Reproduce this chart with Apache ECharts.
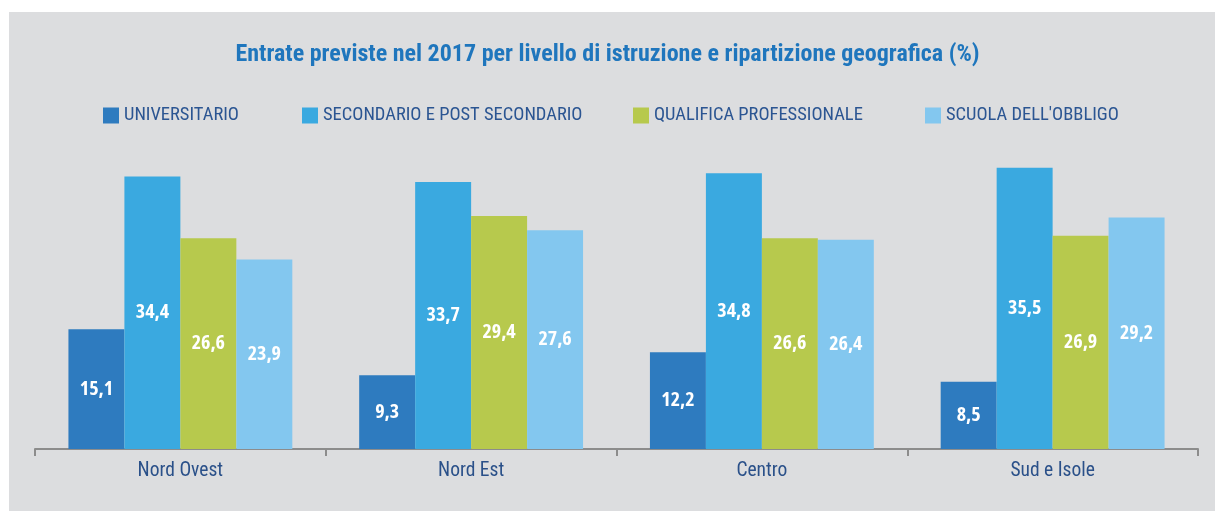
<!DOCTYPE html>
<html>
<head>
<meta charset="utf-8">
<script src="https://cdn.jsdelivr.net/npm/echarts@6/dist/echarts.min.js"></script>
<style>
  html, body { margin: 0; padding: 0; background: #fff; }
  #chart { width: 1215px; height: 511px; }
</style>
</head>
<body>
<div id="chart"></div>
<script>
// categorie e valori (%)
var regioni = ['Nord Ovest', 'Nord Est', 'Centro', 'Sud e Isole'];
var universitario = [15.1, 9.3, 12.2, 8.5];
var secondario = [34.4, 33.7, 34.8, 35.5];
var qualifica = [26.6, 29.4, 26.6, 26.9];
var scuolaObbligo = [23.9, 27.6, 26.4, 29.2];

var nomi = ['UNIVERSITARIO', 'SECONDARIO E POST SECONDARIO', 'QUALIFICA PROFESSIONALE', "SCUOLA DELL'OBBLIGO"];
var colori = ['#2e7bbf', '#3aa9e0', '#b7c94d', '#83c7ef'];

var myChart = echarts.init(document.getElementById('chart'));

function serie(nome, valori, colore) {
    return {
        name: nome,
        type: 'bar',
        data: valori,
        barGap: 0,
        barCategoryGap: '23%',
        itemStyle: { color: colore },
        label: {
            show: true,
            position: 'inside',
            color: '#fff',
            fontFamily: 'Open Sans',
            fontStyle: 'condensed',
            fontWeight: 'bold',
            fontSize: 20,
            formatter: function (p) { return p.value.toFixed(1).replace('.', ','); }
        }
    };
}

// una legenda per ciascuna voce, per posizionarle come nell'originale
var legendLeft = [103, 302, 633, 925];
var legende = nomi.map(function (n, i) {
    return {
        data: [n],
        left: legendLeft[i],
        top: 106,
        padding: 0,
        icon: 'rect',
        itemWidth: 16,
        itemHeight: 16,
        textStyle: { color: '#2b5592', fontFamily: 'Roboto', fontStyle: 'condensed', fontSize: 18.5 }
    };
});

var option = {
    backgroundColor: '#fff',
    animation: false,
    graphic: [{
        type: 'rect',
        left: 9,
        top: 12,
        z: -10,
        silent: true,
        shape: { width: 1206, height: 499 },
        style: { fill: '#dcdddf' }
    }],
    title: {
        text: 'Entrate previste nel 2017 per livello di istruzione e ripartizione geografica (%)',
        left: 'center',
        top: 38,
        textStyle: { color: '#1f76bd', fontFamily: 'Roboto', fontStyle: 'condensed', fontWeight: 'bold', fontSize: 24 }
    },
    legend: legende,
    grid: { left: 35, right: 17, top: 132, bottom: 62 },
    xAxis: {
        type: 'category',
        data: regioni,
        axisLine: { lineStyle: { color: '#8c8c8c', width: 2 } },
        axisTick: { show: true, length: 7, lineStyle: { color: '#8c8c8c', width: 2 } },
        axisLabel: { color: '#2a5089', fontFamily: 'Roboto', fontStyle: 'condensed', fontSize: 19.5, margin: 12 }
    },
    yAxis: {
        type: 'value',
        min: 0,
        max: 40,
        show: false,
        splitLine: { show: false }
    },
    series: [
        serie(nomi[0], universitario, colori[0]),
        serie(nomi[1], secondario, colori[1]),
        serie(nomi[2], qualifica, colori[2]),
        serie(nomi[3], scuolaObbligo, colori[3])
    ]
};

myChart.setOption(option);
</script>
</body>
</html>
